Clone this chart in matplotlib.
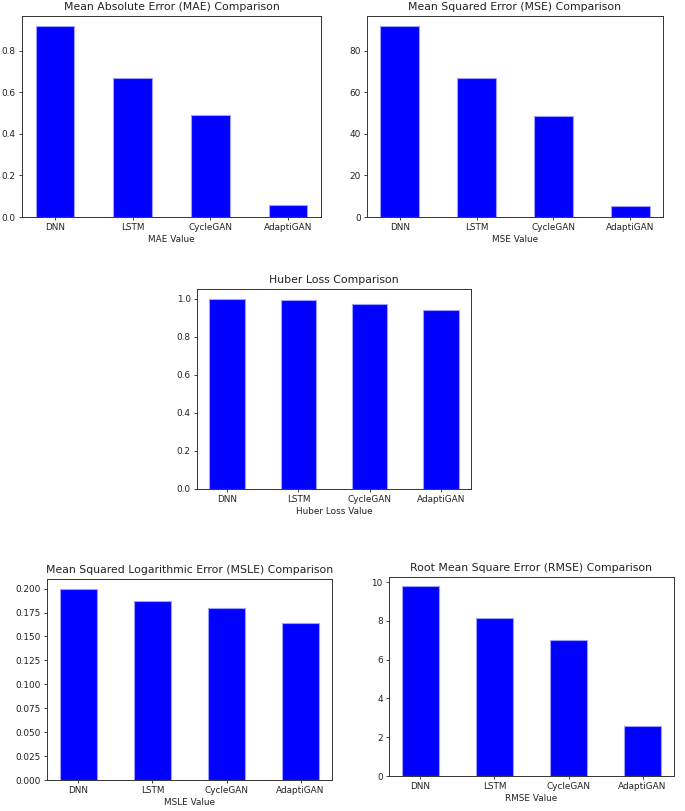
import matplotlib
matplotlib.use("Agg")
import matplotlib.pyplot as plt

models = ["DNN", "LSTM", "CycleGAN", "AdaptiGAN"]

mae = [0.922, 0.670, 0.492, 0.058]
mse = [92.0, 67.0, 48.4, 5.5]
huber = [1.000, 0.991, 0.972, 0.940]
msle = [0.200, 0.1867, 0.180, 0.164]
rmse = [9.78, 8.14, 7.00, 2.60]

W, H = 685, 811

# axes boxes in pixels: left, top, right, bottom
boxes = [
    (22, 16, 321, 217),
    (367, 16, 663, 217),
    (197, 289, 471, 489),
    (47, 579, 332, 780),
    (389, 577, 674, 776),
]

panels = [
    (mae, "Mean Absolute Error (MAE) Comparison", "MAE Value"),
    (mse, "Mean Squared Error (MSE) Comparison", "MSE Value"),
    (huber, "Huber Loss Comparison", "Huber Loss Value"),
    (msle, "Mean Squared Logarithmic Error (MSLE) Comparison", "MSLE Value"),
    (rmse, "Root Mean Square Error (RMSE) Comparison", "RMSE Value"),
]

fig = plt.figure(figsize=(W / 100, H / 100), dpi=100)

for (l, t, r, b), (vals, title, xlabel) in zip(boxes, panels):
    ax = fig.add_axes([l / W, 1 - b / H, (r - l) / W, (b - t) / H])
    x = range(len(models))
    ax.bar(x, vals, width=0.5, color="blue", edgecolor="#a0a0ff", linewidth=0.8)
    ax.set_xticks(list(x))
    ax.set_xticklabels(models)
    ax.set_title(title, fontsize=7.8, color="#222222", pad=4)
    ax.set_xlabel(xlabel, fontsize=6.4, color="#222222", labelpad=2)
    ax.tick_params(labelsize=6.4, length=2.5, width=0.6, pad=2, colors="#222222")
    for s in ax.spines.values():
        s.set_linewidth(0.7)
        s.set_color("#333333")

fig.savefig("out.png", dpi=100)
